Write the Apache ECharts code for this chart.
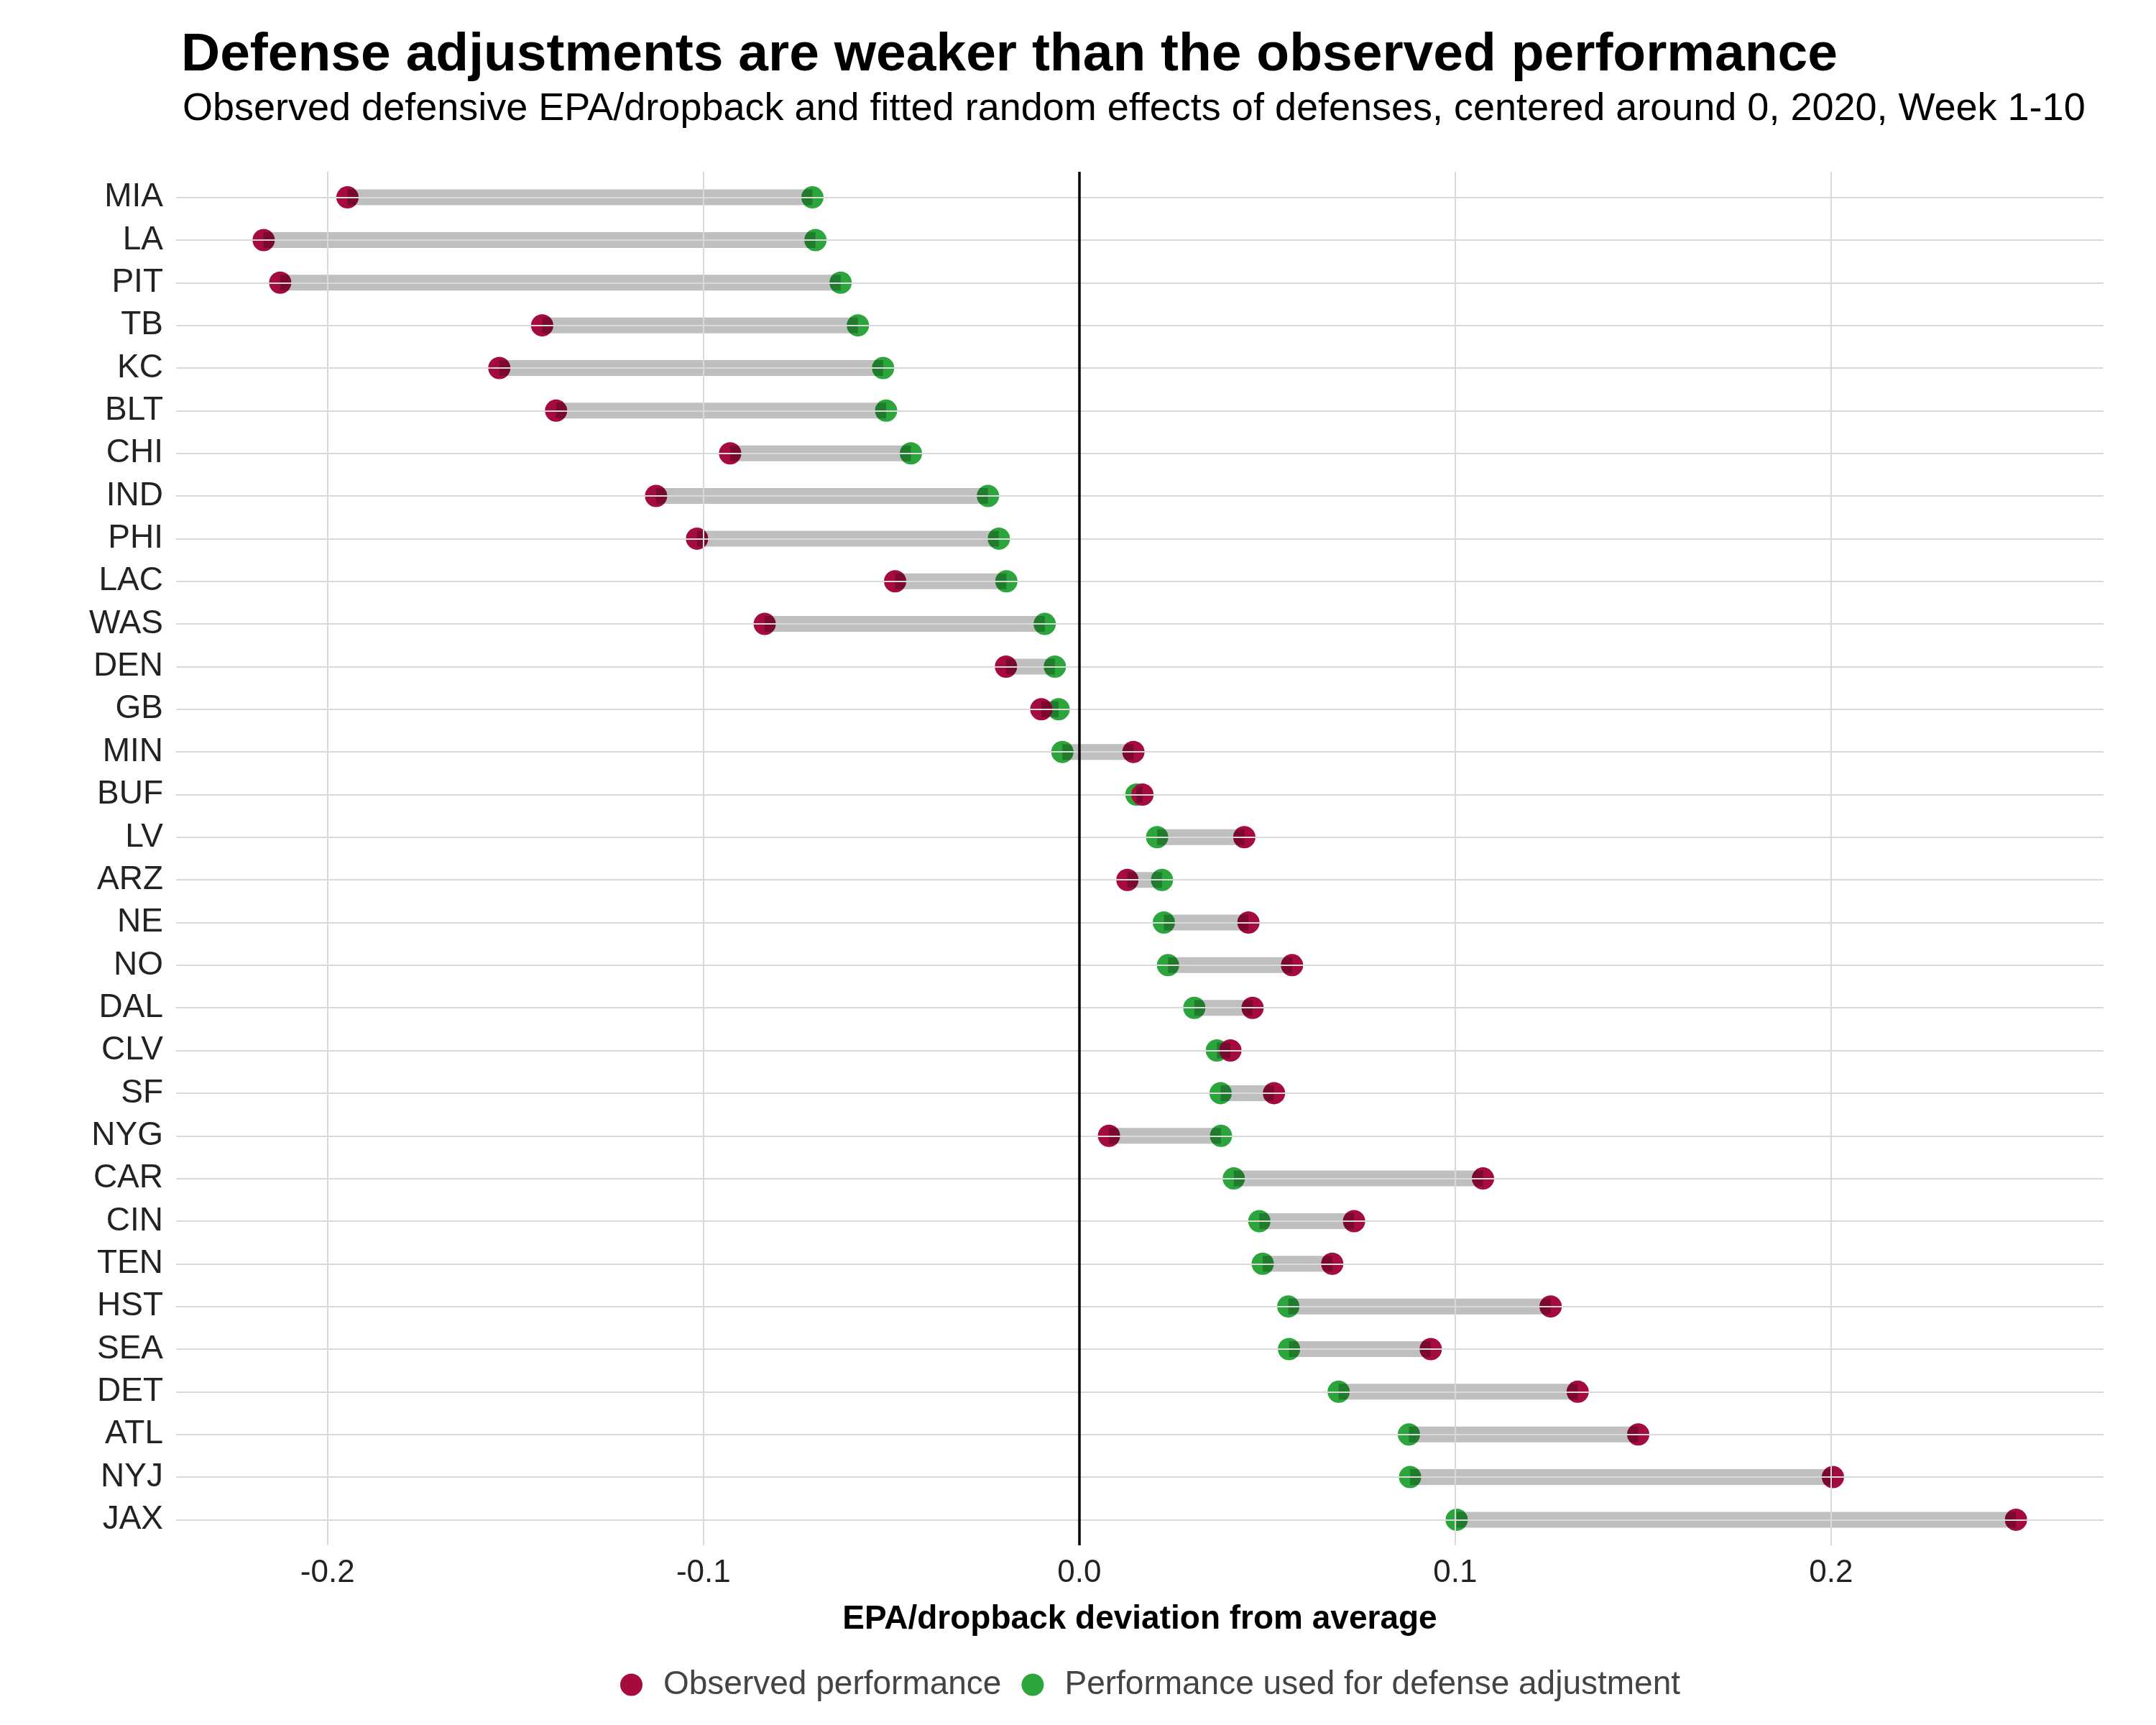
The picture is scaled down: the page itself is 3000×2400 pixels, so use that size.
<!DOCTYPE html>
<html><head><meta charset="utf-8">
<script src="https://cdn.jsdelivr.net/npm/echarts@6/dist/echarts.min.js"></script>
<style>html,body{margin:0;padding:0;background:#fff}#c{width:3000px;height:2400px}</style>
</head><body><div id="c"></div>
<script>
const teams = ['MIA','LA','PIT','TB','KC','BLT','CHI','IND','PHI','LAC','WAS','DEN','GB','MIN','BUF','LV','ARZ','NE','NO','DAL','CLV','SF','NYG','CAR','CIN','TEN','HST','SEA','DET','ATL','NYJ','JAX'];
const observed = [-0.1947,-0.2170,-0.2126,-0.1429,-0.1543,-0.1392,-0.0929,-0.1126,-0.1017,-0.0490,-0.0837,-0.0195,-0.0101,0.0144,0.0168,0.0439,0.0128,0.0450,0.0566,0.0461,0.0402,0.0518,0.0079,0.1074,0.0731,0.0673,0.1254,0.0935,0.1326,0.1487,0.2005,0.2492];
const adjusted = [-0.0710,-0.0702,-0.0635,-0.0589,-0.0522,-0.0514,-0.0448,-0.0243,-0.0214,-0.0194,-0.0092,-0.0065,-0.0055,-0.0045,0.0152,0.0207,0.0220,0.0225,0.0236,0.0306,0.0366,0.0376,0.0377,0.0411,0.0479,0.0488,0.0556,0.0558,0.0690,0.0877,0.0880,0.1004];
const xTicks = [-0.2,-0.1,0.0,0.1,0.2];
const titleText = 'Defense adjustments are weaker than the observed performance';
const subtitleText = 'Observed defensive EPA/dropback and fitted random effects of defenses, centered around 0, 2020, Week 1-10';
const xName = 'EPA/dropback deviation from average';
const seriesNames = ['Observed performance','Performance used for defense adjustment'];

const FONT = "'Liberation Sans', Arial, sans-serif";
const RED = '#A50B3C', GREEN = '#2CA53D';
const xMin = -0.2403, xMax = 0.2725;
const idx = teams.map((t,i)=>i);

const chart = echarts.init(document.getElementById('c'), null, {renderer:'canvas'});
const gridLines = [];
xTicks.forEach(v => { if (v !== 0) gridLines.push({xAxis: v}); });
idx.forEach(i => gridLines.push({yAxis: i}));

chart.setOption({
  backgroundColor: '#ffffff',
  animation: false,
  textStyle: {fontFamily: FONT},
  title: [
    {text: titleText, left: 247, top: 35, textStyle: {fontFamily: FONT, fontSize: 75, fontWeight: 'bold', color: '#000', lineHeight: 75}},
    {text: subtitleText, left: 249, top: 120, textStyle: {fontFamily: FONT, fontSize: 54, fontWeight: 'normal', color: '#000', lineHeight: 54}}
  ],
  legend: {
    data: seriesNames,
    left: 863, top: 2321, padding: 0,
    itemWidth: 31, itemHeight: 31, itemGap: 28,
    icon: 'circle',
    textStyle: {fontFamily: FONT, fontSize: 46, color: '#444', padding: [0,0,0,24], lineHeight: 46}
  },
  grid: {left: 245, top: 239, width: 2682, height: 1911},
  xAxis: {
    type: 'value', min: xMin, max: xMax,
    name: xName, nameLocation: 'middle', nameGap: 80,
    nameTextStyle: {fontFamily: FONT, fontSize: 46, fontWeight: 'bold', color: '#000', lineHeight: 46},
    axisLine: {show: false}, axisTick: {show: false}, splitLine: {show: false},
    axisLabel: {customValues: xTicks, formatter: v => v.toFixed(1), fontFamily: FONT, fontSize: 44, color: '#222', margin: 17, lineHeight: 44}
  },
  yAxis: {
    type: 'value', min: -0.6, max: 31.6, inverse: true,
    axisLine: {show: false}, axisTick: {show: false}, splitLine: {show: false},
    axisLabel: {customValues: idx, formatter: v => teams[Math.round(v)], fontFamily: FONT, fontSize: 46, color: '#222', margin: 18}
  },
  series: [
    {
      type: 'scatter', name: '_grid', data: [], z: 1, silent: true,
      markLine: {
        silent: true, symbol: ['none','none'], label: {show: false},
        lineStyle: {color: '#d9d9d9', width: 2, type: 'solid'},
        data: gridLines
      }
    },
    {
      type: 'scatter', name: '_zero', data: [], z: 1.5, silent: true,
      markLine: {
        silent: true, symbol: ['none','none'], label: {show: false},
        lineStyle: {color: '#000', width: 3.5, type: 'solid'},
        data: [{xAxis: 0}]
      }
    },
    {
      type: 'scatter', name: seriesNames[1], z: 2,
      symbolSize: 31, itemStyle: {color: GREEN, opacity: 1},
      data: idx.map(i => [adjusted[i], i])
    },
    {
      type: 'scatter', name: seriesNames[0], z: 3,
      symbolSize: 31, itemStyle: {color: RED, opacity: 1},
      data: idx.map(i => [observed[i], i])
    },
    {
      type: 'custom', name: '_seg', z: 4, silent: true,
      data: idx.map(i => [observed[i], adjusted[i], i]),
      encode: {x: [0,1], y: 2},
      renderItem: function(params, api) {
        const a = api.coord([api.value(0), api.value(2)]);
        const b = api.coord([api.value(1), api.value(2)]);
        const x0 = Math.min(a[0], b[0]), x1 = Math.max(a[0], b[0]);
        return {type: 'rect', shape: {x: x0, y: a[1]-11, width: x1-x0, height: 22},
                style: {fill: 'rgba(0,0,0,0.25)'}};
      }
    }
  ]
});
</script>
</body></html>
